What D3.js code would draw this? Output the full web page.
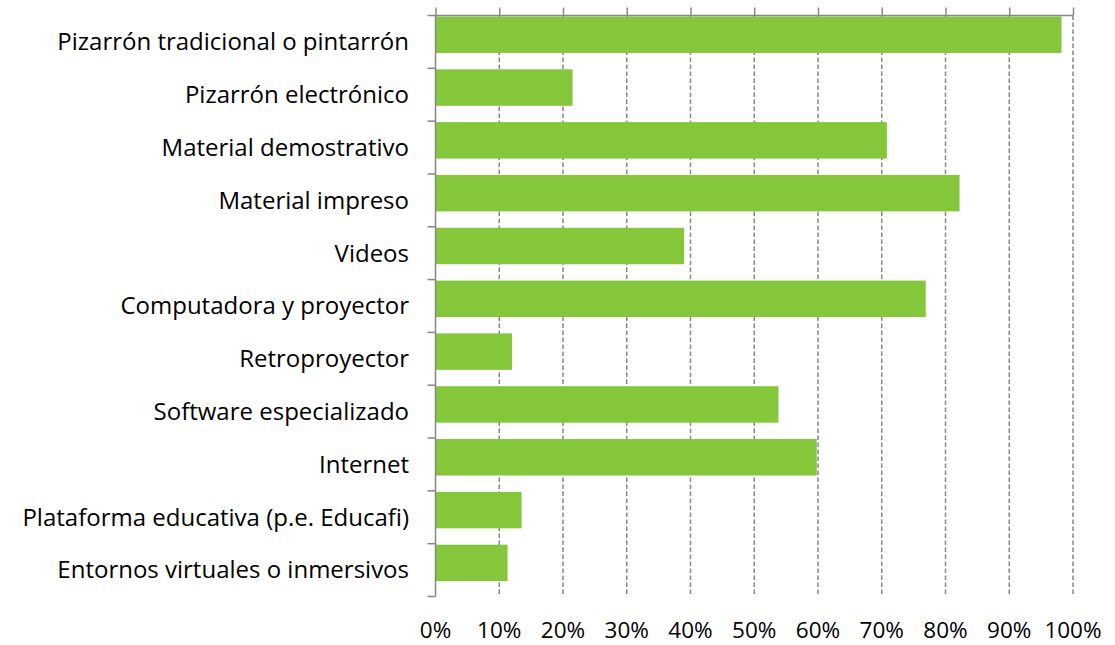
<!DOCTYPE html>
<html>
<head>
<meta charset="utf-8">
<script src="https://cdn.jsdelivr.net/npm/d3@7"></script>
<style>
  body { margin: 0; background: #fff; }
  text { font-family: "Open Sans", Lato, sans-serif; fill: #000; }
</style>
</head>
<body>
<svg id="chart" width="1115" height="645"></svg>
<script>
// Categories (top to bottom) and their shares
var categories = [
  "Pizarrón tradicional o pintarrón",
  "Pizarrón electrónico",
  "Material demostrativo",
  "Material impreso",
  "Videos",
  "Computadora y proyector",
  "Retroproyector",
  "Software especializado",
  "Internet",
  "Plataforma educativa (p.e. Educafi)",
  "Entornos virtuales o inmersivos"
];
var values = [0.982, 0.215, 0.708, 0.822, 0.39, 0.769, 0.12, 0.538, 0.598, 0.135, 0.113];
var tickValues = [0, 0.1, 0.2, 0.3, 0.4, 0.5, 0.6, 0.7, 0.8, 0.9, 1.0];

// plot area edges
var plotLeft = 435.5, plotRight = 1073, plotTop = 15.5, plotBottom = 596.5;
var grey = "#878787", green = "#84c73a";

var svg = d3.select("#chart");

var x = d3.scaleLinear().domain([0, 1]).range([plotLeft, plotRight]);
var y = d3.scaleBand().domain(categories).range([plotTop, plotBottom]).paddingInner(0);

// dashed gridlines
svg.append("g").selectAll("line")
  .data(tickValues.slice(1))
  .enter().append("line")
  .attr("x1", d => x(d)).attr("x2", d => x(d))
  .attr("y1", plotTop).attr("y2", plotBottom)
  .attr("stroke", grey)
  .attr("stroke-width", 1.5)
  .attr("stroke-dasharray", "4.5,2.5");

// bars (sit at top of each band in the original)
svg.append("g").selectAll("rect")
  .data(categories)
  .enter().append("rect")
  .attr("x", x(0))
  .attr("y", d => y(d) + 1)
  .attr("width", (d, i) => x(values[i]) - x(0))
  .attr("height", y.bandwidth() * 0.69)
  .attr("fill", green);

// top axis with tick marks
var topAxis = d3.axisTop(x).tickValues(tickValues).tickSize(8).tickFormat("");
var gTop = svg.append("g")
  .attr("transform", "translate(0," + plotTop + ")")
  .call(topAxis);
gTop.select(".domain").attr("stroke", grey).attr("stroke-width", 1.5).attr("d", "M" + plotLeft + ",0H" + plotRight);
gTop.selectAll(".tick line").attr("stroke", grey).attr("stroke-width", 1.5);

// left axis: line plus ticks on band boundaries
var gLeft = svg.append("g");
gLeft.append("line")
  .attr("x1", plotLeft).attr("x2", plotLeft)
  .attr("y1", plotTop).attr("y2", plotBottom)
  .attr("stroke", grey).attr("stroke-width", 1.5);
var bounds = categories.map(d => y(d)).concat([plotBottom]);
gLeft.selectAll(".btick")
  .data(bounds)
  .enter().append("line")
  .attr("class", "btick")
  .attr("x1", plotLeft - 8).attr("x2", plotLeft)
  .attr("y1", d => d).attr("y2", d => d)
  .attr("stroke", grey).attr("stroke-width", 1.5);

// category labels at band centres
svg.append("g").selectAll("text")
  .data(categories)
  .enter().append("text")
  .attr("x", 409)
  .attr("y", d => y(d) + y.bandwidth() / 2)
  .attr("dy", "0.35em")
  .attr("text-anchor", "end")
  .style("font-size", "24px")
  .text(d => d);

// percentage labels under the plot
svg.append("g").selectAll("text")
  .data(tickValues)
  .enter().append("text")
  .attr("x", d => x(d))
  .attr("y", 630)
  .attr("dy", "0.35em")
  .attr("text-anchor", "middle")
  .style("font-size", "22.5px")
  .text(d => d3.format(".0%")(d));
</script>
</body>
</html>
